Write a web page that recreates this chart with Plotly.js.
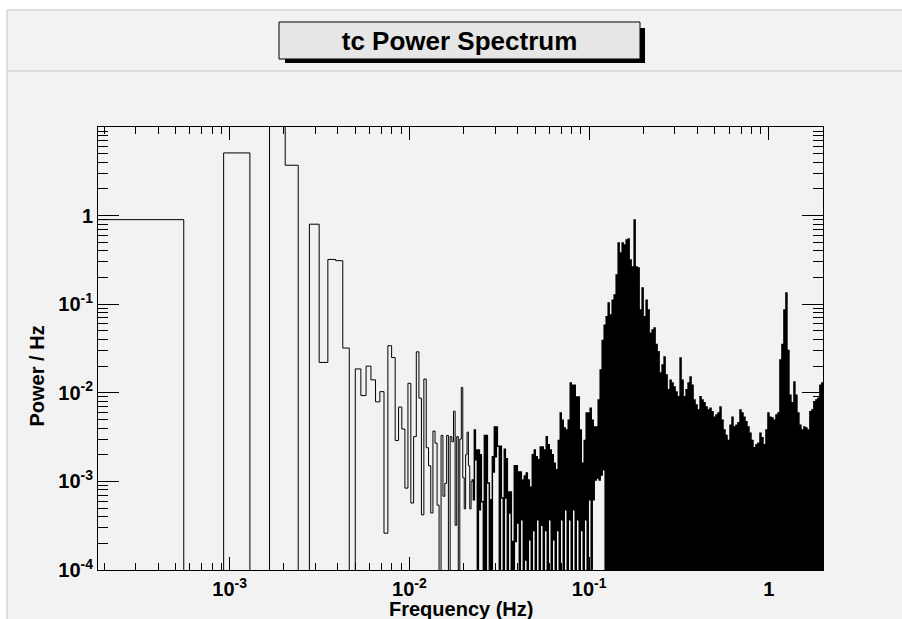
<!DOCTYPE html>
<html>
<head>
<meta charset="utf-8">
<script src="https://cdn.plot.ly/plotly-3.0.1.min.js"></script>
<style>
  html, body { margin: 0; padding: 0; background: #f2f2f2; }
  #chart { width: 902px; height: 619px; }
</style>
</head>
<body>
<div id="chart"></div>
<script>
// ---------------- data ----------------
const chartTitle = 'tc Power Spectrum';
const xAxisTitle = 'Frequency (Hz)';
const yAxisTitle = 'Power / Hz';

// FFT bin width (Hz); bin k covers [(k-0.5)*w, (k+0.5)*w]
const binWidthHz = 1 / 2700;

// power per bin for the first 60 FFT bins (0 = below 1e-4, not visible)
const lowFreqPower = [
  0.90, 0, 5.1, 0, 15, 3.7, 0, 0.80, 0.022, 0.32,
  0.31, 0.032, 0, 0.0186, 0.0093, 0.020, 0.0140, 0.0079, 0.0103, 2.6e-4,
  0.034, 0.025, 0.0029, 0.0069, 0.0039, 8.4e-4, 0.0128, 5.7e-4, 0.0032, 0.029,
  0.0087, 4.2e-4, 0.0143, 0.0024, 0.0015, 4.4e-4, 0.0037, 0.0027, 5.4e-4, 0,
  0.0033, 6.8e-4, 9.5e-4, 0.0033, 0, 0.0032, 0.0028, 0.0062, 3.2e-4, 0.0032,
  0, 0.0030, 0.0115, 0.0011, 4.9e-4, 0.0020, 0.0036, 0.0015, 4.9e-4, 0.0010
];

// dense part (0.0224 Hz .. 2 Hz): upper and lower envelope of the bins
// falling in each narrow log-frequency column
const bandTop = [
  1.04e-3, 3.8e-3, 2.26e-3, 2.26e-3, 2.0e-3, 5.9e-4, 3.3e-3, 3.3e-3, 9.6e-4, 6.2e-4,
  1.9e-3, 4.1e-3, 4.1e-3, 2.5e-3, 2.5e-3, 6.5e-4, 2.3e-3, 1.8e-3, 7.6e-4, 7.6e-4,
  2.1e-4, 1.5e-3, 1.5e-3, 1.28e-3, 1.28e-3, 1.04e-3, 1.15e-3, 1.24e-3, 1.04e-3, 8.6e-4,
  2.0e-3, 2.26e-3, 1.9e-3, 1.75e-3, 2.44e-3, 2.44e-3, 2.26e-3, 3.2e-3, 2.6e-3, 2.26e-3,
  2.0e-3, 1.6e-3, 1.35e-3, 2.9e-3, 5.9e-3, 4.9e-3, 4.0e-3, 3.8e-3, 4.9e-3, 0.0129,
  0.0122, 0.0122, 8.97e-3, 8.97e-3, 3.8e-3, 1.6e-3, 2.9e-3, 5.9e-3, 5.9e-3, 6.7e-3,
  4.9e-3, 4.1e-3, 4.1e-3, 8.3e-3, 0.0181, 0.039, 0.058, 0.072, 0.103, 0.0755,
  0.111, 0.127, 0.214, 0.491, 0.378, 0.491, 0.466, 0.532, 0.545, 0.316,
  0.263, 0.891, 0.263, 0.256, 0.086, 0.152, 0.072, 0.111, 0.086, 0.047,
  0.051, 0.054, 0.035, 0.029, 0.0167, 0.0206, 0.0254, 0.0159, 0.0108, 0.0139,
  0.0129, 0.0116, 0.0102, 0.0090, 0.0247, 0.0139, 0.0090, 0.0108, 0.0129, 0.0151,
  0.0122, 0.0083, 0.0073, 0.0064, 0.0090, 0.0083, 0.0077, 0.0069, 0.0064, 0.0067,
  0.0061, 0.0053, 0.0056, 0.0059, 0.0069, 0.0049, 0.0038, 0.0033, 0.0029, 0.0043,
  0.0053, 0.0041, 0.0043, 0.0046, 0.0064, 0.0059, 0.0053, 0.0047, 0.0041, 0.0035,
  0.0029, 0.0024, 0.0026, 0.0027, 0.0035, 0.0031, 0.0026, 0.0038, 0.0059, 0.0053,
  0.0052, 0.0049, 0.0056, 0.0059, 0.0234, 0.035, 0.086, 0.134, 0.030, 0.0094,
  0.0077, 0.0132, 0.0094, 0.0059, 0.0043, 0.0038, 0.0041, 0.0040, 0.0038, 0.0061,
  0.0064, 0.0077, 0.0083, 0.0087, 0.0122, 0.0129
];
const bandBottom = [
  6.2e-4, 1.75e-3, 5e-5, 4.8e-4, 5.9e-4, 5e-5, 5e-5, 9.6e-4, 5e-5, 5e-5,
  1.28e-3, 1.9e-3, 2.5e-3, 5e-5, 6.5e-4, 5e-5, 6.5e-4, 5e-5, 4.4e-4, 5e-5,
  5e-5, 2.1e-4, 3.4e-4, 5e-5, 3.7e-4, 5e-5, 1.3e-4, 5e-5, 2.2e-4, 5e-5,
  2.8e-4, 5e-5, 3.7e-4, 5e-5, 3.2e-4, 5e-5, 2.8e-4, 5e-5, 3.7e-4, 5e-5,
  2.2e-4, 5e-5, 2.8e-4, 5e-5, 3.7e-4, 5e-5, 4.8e-4, 5e-5, 3.7e-4, 5e-5,
  4.8e-4, 5e-5, 3.7e-4, 5e-5, 2.8e-4, 5e-5, 3.7e-4, 5e-5, 6.2e-4, 5e-5,
  6.2e-4, 1.04e-3, 1.09e-3, 1.04e-3, 1.18e-3, 1.35e-3, 5e-5, 5e-5, 5e-5, 5e-5,
  5e-5, 5e-5, 5e-5, 5e-5, 5e-5, 5e-5, 5e-5, 5e-5, 5e-5, 5e-5,
  5e-5, 5e-5, 5e-5, 5e-5, 5e-5, 5e-5, 5e-5, 5e-5, 5e-5, 5e-5,
  5e-5, 5e-5, 5e-5, 5e-5, 5e-5, 5e-5, 5e-5, 5e-5, 5e-5, 5e-5,
  5e-5, 5e-5, 5e-5, 5e-5, 5e-5, 5e-5, 5e-5, 5e-5, 5e-5, 5e-5,
  5e-5, 5e-5, 5e-5, 5e-5, 5e-5, 5e-5, 5e-5, 5e-5, 5e-5, 5e-5,
  5e-5, 5e-5, 5e-5, 5e-5, 5e-5, 5e-5, 5e-5, 5e-5, 5e-5, 5e-5,
  5e-5, 5e-5, 5e-5, 5e-5, 5e-5, 5e-5, 5e-5, 5e-5, 5e-5, 5e-5,
  5e-5, 5e-5, 5e-5, 5e-5, 5e-5, 5e-5, 5e-5, 5e-5, 5e-5, 5e-5,
  5e-5, 5e-5, 5e-5, 5e-5, 5e-5, 5e-5, 5e-5, 5e-5, 5e-5, 5e-5,
  5e-5, 5e-5, 5e-5, 5e-5, 5e-5, 5e-5, 5e-5, 5e-5, 5e-5, 5e-5,
  5e-5, 5e-5, 5e-5, 5e-5, 5e-5, 5e-5
];

// tick labels
const xTickVals = [1e-3, 1e-2, 1e-1, 1];
const xTickText = ['10<sup>-3</sup>', '10<sup>-2</sup>', '10<sup>-1</sup>', '1'];
const yTickVals = [1e-4, 1e-3, 1e-2, 1e-1, 1];
const yTickText = ['10<sup>-4</sup>', '10<sup>-3</sup>', '10<sup>-2</sup>', '10<sup>-1</sup>', '1'];

// ---------------- build the step histogram ----------------
const FLOOR = 1e-7;               // "empty" bins drawn far below the axis
const xMin = 0.5 * binWidthHz;
const xMax = 2.0;

// low-frequency bins (one step per FFT bin)
const xsLow = [], ysLow = [];
lowFreqPower.forEach((v, i) => {
  const k = i + 1;
  xsLow.push((k - 0.5) * binWidthHz);
  ysLow.push(v > 0 ? v : FLOOR);
});
const f0 = (lowFreqPower.length + 0.5) * binWidthHz;
xsLow.push(f0);
ysLow.push(ysLow[ysLow.length - 1]);

// dense band: each column drawn as a top half-step and a bottom half-step
const colStep = 1 / 180;          // decades per half-column
const xsBand = [f0], ysBand = [ysLow[ysLow.length - 1]];
bandTop.forEach((t, j) => {
  xsBand.push(f0 * Math.pow(10, (2 * j) * colStep));     ysBand.push(t);
  xsBand.push(f0 * Math.pow(10, (2 * j + 1) * colStep)); ysBand.push(bandBottom[j]);
});
xsBand.push(f0 * Math.pow(10, 2 * bandTop.length * colStep));
ysBand.push(ysBand[ysBand.length - 1]);

function minorTicks(lo, hi) {
  const out = [];
  for (let e = -5; e <= 1; e++) {
    for (let d = 2; d <= 9; d++) {
      const v = d * Math.pow(10, e);
      if (v >= lo && v <= hi) out.push(v);
    }
  }
  return out;
}

// ---------------- layout ----------------
const W = 902, H = 619;
const M = { l: 98, r: 79, t: 127, b: 49 };
const PW = W - M.l - M.r, PH = H - M.t - M.b;
const px = x => (x - M.l) / PW;          // pixel -> paper x
const py = y => (H - M.b - y) / PH;      // pixel -> paper y

const FONT = 'Liberation Sans, Arial, Helvetica, sans-serif';

const shapes = [
  // white outer strip (canvas border) and bevel lines
  { type: 'rect', xref: 'paper', yref: 'paper', x0: px(0), x1: px(W), y0: py(0), y1: py(10),
    fillcolor: '#ffffff', line: { width: 0 }, layer: 'below' },
  { type: 'rect', xref: 'paper', yref: 'paper', x0: px(0), x1: px(7), y0: py(0), y1: py(H),
    fillcolor: '#ffffff', line: { width: 0 }, layer: 'below' },
  { type: 'line', xref: 'paper', yref: 'paper', x0: px(7), x1: px(W), y0: py(10), y1: py(10),
    line: { color: '#d4d4d4', width: 1.5 } },
  { type: 'line', xref: 'paper', yref: 'paper', x0: px(7), x1: px(7), y0: py(10), y1: py(H),
    line: { color: '#d4d4d4', width: 1.5 } },
  { type: 'line', xref: 'paper', yref: 'paper', x0: px(7), x1: px(W), y0: py(71), y1: py(71),
    line: { color: '#dcdcdc', width: 2 } },
  // title box shadow and box
  { type: 'rect', xref: 'paper', yref: 'paper', x0: px(285), x1: px(645), y0: py(63), y1: py(28),
    fillcolor: '#000000', line: { width: 0 } },
  { type: 'rect', xref: 'paper', yref: 'paper', x0: px(279), x1: px(640), y0: py(59), y1: py(22),
    fillcolor: '#e6e6e6', line: { color: '#000000', width: 1 } }
];

const axisCommon = {
  type: 'log',
  tickmode: 'array',
  ticks: 'inside',
  tickcolor: '#000',
  tickwidth: 1,
  showline: true,
  linecolor: '#000',
  linewidth: 1,
  mirror: 'ticks',
  showgrid: false,
  zeroline: false,
  tickfont: { family: FONT, size: 20, color: '#000', weight: 'bold' }
};

const layout = {
  width: W, height: H,
  margin: { l: M.l, r: M.r, t: M.t, b: M.b, pad: 0 },
  paper_bgcolor: '#f2f2f2',
  plot_bgcolor: '#f2f2f2',
  showlegend: false,
  font: { family: FONT, color: '#000' },
  title: {
    text: chartTitle,
    font: { family: FONT, size: 26, color: '#000', weight: 'bold' },
    xref: 'container', yref: 'container',
    x: 459.5 / W, xanchor: 'center',
    y: 1 - 40.5 / H, yanchor: 'middle'
  },
  xaxis: Object.assign({}, axisCommon, {
    range: [Math.log10(xMin), Math.log10(xMax)],
    tickvals: xTickVals, ticktext: xTickText,
    ticklen: 13,
    ticklabelstandoff: 1,
    minor: { tickmode: 'array', tickvals: minorTicks(xMin, xMax), ticks: 'inside',
             ticklen: 7, tickwidth: 1, tickcolor: '#000', showgrid: false }
  }),
  yaxis: Object.assign({}, axisCommon, {
    range: [-4, 1],
    tickvals: yTickVals, ticktext: yTickText,
    ticklen: 21,
    ticklabelstandoff: 0,
    minor: { tickmode: 'array', tickvals: minorTicks(1e-4, 10), ticks: 'inside',
             ticklen: 10, tickwidth: 1, tickcolor: '#000', showgrid: false }
  }),
  shapes: shapes,
  annotations: [
    { text: xAxisTitle, xref: 'paper', yref: 'paper', x: px(461), y: py(609),
      xanchor: 'center', yanchor: 'middle', showarrow: false,
      font: { family: FONT, size: 20, color: '#000', weight: 'bold' } },
    { text: yAxisTitle, xref: 'paper', yref: 'paper', x: px(36), y: py(376.5),
      xanchor: 'center', yanchor: 'middle', showarrow: false, textangle: -90,
      font: { family: FONT, size: 20, color: '#000', weight: 'bold' } }
  ]
};

const traceLow = {
  type: 'scatter', mode: 'lines',
  x: xsLow, y: ysLow,
  line: { color: '#000', width: 1, shape: 'hv', simplify: false },
  hoverinfo: 'skip'
};
const traceBand = {
  type: 'scatter', mode: 'lines',
  x: xsBand, y: ysBand,
  line: { color: '#000', width: 1.5, shape: 'hv', simplify: false },
  hoverinfo: 'skip'
};

Plotly.newPlot('chart', [traceLow, traceBand], layout, { displayModeBar: false, staticPlot: true });
</script>
</body>
</html>
